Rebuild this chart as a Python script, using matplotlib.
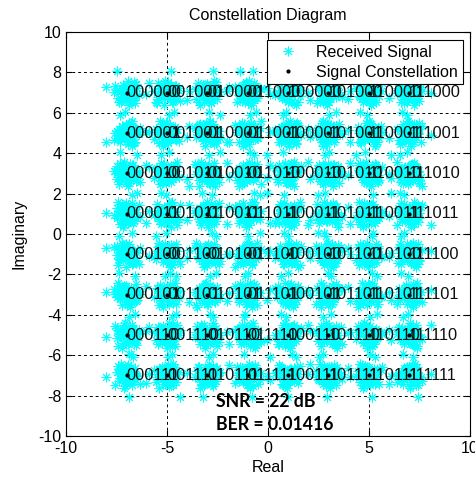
import matplotlib
matplotlib.use("Agg")
import matplotlib.pyplot as plt
import numpy as np

levels = [-7, -5, -3, -1, 1, 3, 5, 7]
col_bits = ["000", "001", "010", "011", "100", "101", "110", "111"]
row_levels = [7, 5, 3, 1, -1, -3, -5, -7]
row_bits = ["000", "001", "010", "011", "100", "101", "110", "111"]

# hand-read scatter offsets (in units of noise_scale) around each constellation point
noise_dx = [0.12, -0.35, 0.48, -0.61, 0.27, -0.08, 0.55, -0.42, 0.03, 0.31,
            -0.22, 0.66, -0.73, 0.19, -0.15, 0.41, -0.50, 0.09, 0.74, -0.29,
            0.36, -0.04, -0.58, 0.22, 0.61, -0.37, 0.14, -0.67, 0.45, -0.11,
            0.88, -0.92, 0.05, 0.29, -0.19, 0.52, -0.26, 0.17, 1.60, -0.45,
            0.33, -0.06, 0.24, -0.81, 0.58, -0.13, 0.07, -0.39, 0.43, -1.50,
            0.21, -0.31, 0.69, -0.02, 0.38, -0.55, 0.11, -0.18, 0.95, -0.64]
noise_dy = [-0.21, 0.33, 0.09, -0.47, 0.58, -0.62, -0.18, 0.26, 0.71, -0.39,
            0.44, 0.15, -0.06, -0.69, 0.37, -0.28, 0.51, 0.02, -0.33, 0.63,
            0.24, -0.55, -0.12, 0.46, -0.41, 0.07, -0.78, 0.31, 0.19, -0.25,
            0.12, -0.08, 0.85, 0.64, -0.49, -0.66, 1.55, -0.15, 0.28, -0.93,
            0.04, 0.39, -0.35, 0.17, -0.02, 0.53, -0.71, 0.22, -1.60, 0.47,
            -0.27, 0.13, 0.76]
noise_scale = 0.68
points_per_cluster = 55

snr_text = "SNR = 22 dB"
ber_text = "BER = 0.01416"

const_x, const_y, labels = [], [], []
for r, yv in enumerate(row_levels):
    for i, xv in enumerate(levels):
        const_x.append(xv)
        const_y.append(yv)
        labels.append(col_bits[i] + row_bits[r])

rx, ry = [], []
nx, ny = len(noise_dx), len(noise_dy)
for k, (cx, cy) in enumerate(zip(const_x, const_y)):
    for j in range(points_per_cluster):
        rx.append(cx + noise_scale * noise_dx[(k * 7 + j) % nx])
        ry.append(cy + noise_scale * noise_dy[(k * 11 + 3 * j) % ny])

plt.rcParams['font.family'] = ['Liberation Sans', 'DejaVu Sans']
plt.rcParams['axes.unicode_minus'] = False
fig = plt.figure(figsize=(4.75, 4.82), dpi=100)
ax = fig.add_axes([0.139, 0.0954, 0.850, 0.8382])

ax.plot(rx, ry, linestyle='none', marker=(8, 2, 0), markersize=7, color='#00ffff',
        markeredgewidth=0.7, label='Received Signal', zorder=2)
ax.plot(const_x, const_y, linestyle='none', marker='.', markersize=4, color='black',
        label='Signal Constellation', zorder=3)
for x, y, t in zip(const_x, const_y, labels):
    ax.text(x, y, t, fontsize=11.8, ha='left', va='center', color='#101010', zorder=4)

ax.set_xlim(-10, 10)
ax.set_ylim(-10, 10)
ax.set_xticks([-10, -5, 0, 5, 10])
ax.set_yticks(list(range(-10, 11, 2)))
ax.tick_params(direction='in', top=True, right=True, labelsize=11.5, length=4)
ax.grid(True, color='black', linestyle=(0, (3, 3)), linewidth=0.7)
ax.set_axisbelow(True)
ax.set_title('Constellation Diagram', fontsize=11.5, pad=9)
ax.set_xlabel('Real', fontsize=11.5, labelpad=3)
ax.set_ylabel('Imaginary', fontsize=11.5, labelpad=8)

leg = ax.legend(loc='upper right', bbox_to_anchor=(0.983, 0.98), borderaxespad=0,
                fontsize=11.5, fancybox=False, framealpha=1, edgecolor='black',
                handletextpad=0.8, borderpad=0.3, labelspacing=0.3)
leg.get_frame().set_linewidth(0.8)
leg.set_zorder(10)

ax.text(-2.55, -8.3, snr_text, fontsize=12.7, fontweight='bold', family=['Lato', 'DejaVu Sans'],
        ha='left', va='center', zorder=5)
ax.text(-2.55, -9.45, ber_text, fontsize=12.7, fontweight='bold', family=['Lato', 'DejaVu Sans'],
        ha='left', va='center', zorder=5)

fig.savefig('out.png', dpi=100)
